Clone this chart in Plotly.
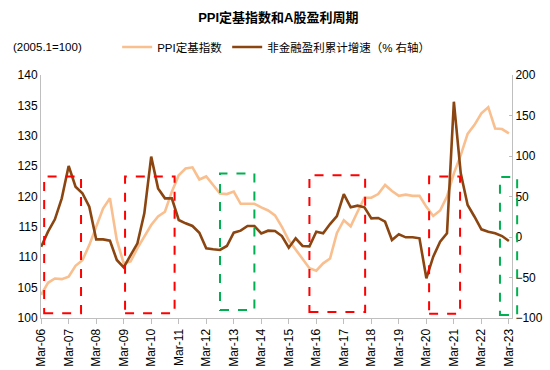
import plotly.graph_objects as go

# Quarterly data, Mar-06 .. Mar-23
ppi = [103.8, 105.8, 106.5, 106.4, 106.8, 108.6, 109.5, 112.0, 115.0, 118.0,
       119.7, 112.8, 109.0, 109.3, 111.5, 113.4, 115.3, 116.7, 117.5, 120.8,
       123.5, 124.6, 124.8, 122.8, 123.3, 121.9, 120.5, 120.4, 120.8, 118.8,
       118.8, 118.8, 118.2, 117.7, 116.9, 115.0, 112.8, 111.2, 109.7, 108.2,
       107.8, 109.0, 109.8, 114.0, 116.1, 115.1, 117.5, 119.8, 119.8, 120.4,
       121.9, 120.9, 120.1, 120.3, 120.1, 120.1, 118.3, 116.8, 117.7, 120.0,
       123.8, 126.8, 130.3, 131.8, 133.7, 134.7, 131.2, 131.1, 130.4]
profit = [-12.0, 6.6, 21.8, 47.7, 87.7, 62.0, 54.0, 37.4, -2.9, -2.9,
          -4.5, -28.4, -37.4, -22.2, -7.8, 29.2, 99.2, 60.0, 47.7, 47.7,
          21.0, 16.9, 13.6, 5.3, -14.0, -15.2, -16.0, -11.1, 5.3, 7.8,
          13.6, 13.6, 4.5, 7.8, 7.4, 1.2, -13.2, -1.6, -11.1, -11.5,
          6.6, 4.5, 16.0, 25.9, 53.0, 36.6, 38.7, 36.6, 23.0, 23.5,
          18.9, -3.7, 3.3, -0.4, -0.4, -1.6, -51.0, -24.3, -5.8, 4.5,
          167.0, 78.6, 39.5, 25.0, 9.5, 6.6, 4.5, 1.2, -4.9]
years = ["06", "07", "08", "09", "10", "11", "12", "13", "14", "15",
         "16", "17", "18", "19", "20", "21", "22", "23"]
tick_labels = ["Mar-" + y for y in years]
quarter_idx = list(range(len(ppi)))
tick_vals = quarter_idx[::4]

# highlighted periods (quarter index start/end, left-axis low/high, colour)
box_x0 = [0.44, 12.2, 26.0, 39.0, 56.4, 66.7]
box_x1 = [5.8, 19.4, 31.0, 47.1, 60.9, 69.2]
box_y0 = [100.8, 100.8, 101.3, 101.0, 100.7, 100.5]
box_y1 = [123.3, 123.3, 123.8, 123.5, 123.3, 123.2]
box_col = ["#FF0000", "#FF0000", "#00B050", "#FF0000", "#FF0000", "#00B050"]

XMIN, XMAX = -0.02, 68.45
FONT = "Liberation Sans, Arial, Noto Sans CJK SC, sans-serif"

fig = go.Figure()
fig.add_trace(go.Scatter(x=quarter_idx, y=ppi, mode="lines", name="PPI定基指数",
                         line=dict(color="#F9BF8F", width=2.6), yaxis="y"))
fig.add_trace(go.Scatter(x=quarter_idx, y=profit, mode="lines",
                         name="非金融盈利累计增速（% 右轴）",
                         line=dict(color="#8B4510", width=2.6), yaxis="y2"))

for x0, x1, y0, y1, c in zip(box_x0, box_x1, box_y0, box_y1, box_col):
    fig.add_shape(type="rect", xref="paper", yref="y",
                  x0=(x0 - XMIN) / (XMAX - XMIN), x1=(x1 - XMIN) / (XMAX - XMIN),
                  y0=y0, y1=y1, line=dict(color=c, width=2, dash="dash"),
                  fillcolor="rgba(0,0,0,0)", layer="above")

fig.add_annotation(text="(2005.1=100)", xref="paper", yref="paper",
                   x=(11 - 41) / 471, y=(318 - 47) / 243, xanchor="left",
                   yanchor="middle", showarrow=False,
                   font=dict(size=11.5, color="#000"))

fig.update_layout(
    width=550, height=370,
    margin=dict(l=41, r=38, t=75, b=52, autoexpand=False),
    paper_bgcolor="white", plot_bgcolor="white",
    font=dict(family=FONT, size=12, color="#000"),
    title=dict(text="<b>PPI定基指数和A股盈利周期</b>", x=0.506, xanchor="center",
               y=1 - 17 / 370, yanchor="middle", font=dict(size=13, color="#000")),
    legend=dict(orientation="h", xref="container", yref="container",
                x=0.213, y=1 - 47 / 370, xanchor="left", yanchor="middle",
                font=dict(size=11.5), bgcolor="rgba(0,0,0,0)",
                itemwidth=30, tracegroupgap=0),
    xaxis=dict(range=[XMIN, XMAX], tickvals=tick_vals, ticktext=tick_labels,
               tickangle=-90, showgrid=False, zeroline=False,
               showline=True, linecolor="#BFBFBF", linewidth=1,
               ticks="outside", ticklen=5, tickcolor="#BFBFBF",
               tickfont=dict(size=12)),
    yaxis=dict(range=[100, 140], dtick=5, showgrid=False, zeroline=False,
               showline=True, linecolor="#BFBFBF", linewidth=1,
               ticks="", tickfont=dict(size=12)),
    yaxis2=dict(range=[-100, 200], dtick=50, overlaying="y", side="right",
                showgrid=False, zeroline=False, showline=True,
                linecolor="#BFBFBF", linewidth=1, ticks="inside",
                ticklen=3, tickcolor="#BFBFBF", tickfont=dict(size=12)),
)

fig.write_html("out.html", config={"displayModeBar": False},
               post_script="document.body.style.margin='0';"
                           "document.body.style.overflow='hidden';")
